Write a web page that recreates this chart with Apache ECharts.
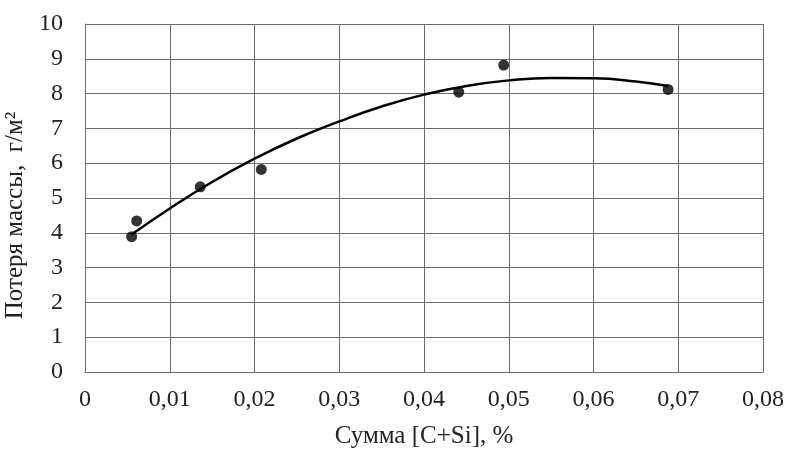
<!doctype html>
<html lang="ru">
<head>
    <meta charset="utf-8">
    <title>Потеря массы</title>
    <script src="https://cdn.jsdelivr.net/npm/echarts@6/dist/echarts.min.js"></script>
    <style>
        html, body { margin: 0; padding: 0; background: #fff; }
        #main { width: 785px; height: 451px; }
    </style>
</head>
<body>
    <div id="main"></div>
    <script>
        // измеренные точки
        var pointX = [0.0055, 0.0061, 0.0136, 0.0208, 0.0441, 0.0494, 0.0688];
        var pointY = [3.89, 4.34, 5.32, 5.82, 8.04, 8.82, 8.12];

        // линия тренда
        var trendX = [0.0055, 0.01, 0.015, 0.02, 0.025, 0.03, 0.035, 0.04, 0.045, 0.05, 0.055, 0.06, 0.065, 0.0688];
        var trendY = [3.95, 4.70, 5.46, 6.13, 6.71, 7.20, 7.63, 7.97, 8.22, 8.38, 8.45, 8.44, 8.35, 8.22];

        var xTickLabels = ['0', '0,01', '0,02', '0,03', '0,04', '0,05', '0,06', '0,07', '0,08'];
        var yTickLabels = ['0', '1', '2', '3', '4', '5', '6', '7', '8', '9', '10'];

        var points = [];
        for (var i = 0; i < pointX.length; i++) points.push([pointX[i], pointY[i]]);
        var trend = [];
        for (var j = 0; j < trendX.length; j++) trend.push([trendX[j], trendY[j]]);

        var font = '"Liberation Serif", "Times New Roman", serif';
        var gridLine = { show: true, lineStyle: { color: '#6e6e6e', width: 1 } };

        var myChart = echarts.init(document.getElementById('main'));
        var option = {
            animation: false,
            backgroundColor: '#fff',
            grid: { left: 85, right: 22, top: 24, bottom: 79, containLabel: false, outerBoundsMode: 'none' },
            xAxis: {
                type: 'value',
                min: 0, max: 0.08, interval: 0.01,
                name: 'Сумма [C+Si], %',
                nameLocation: 'middle',
                nameGap: 52,
                nameTextStyle: { fontFamily: font, fontSize: 25, color: '#222' },
                axisLine: { show: true, lineStyle: { color: '#6e6e6e', width: 1 } },
                axisTick: { show: false },
                splitLine: gridLine,
                axisLabel: {
                    margin: 16,
                    fontFamily: font, fontSize: 24, color: '#222',
                    formatter: function (v) { return xTickLabels[Math.round(v / 0.01)]; }
                }
            },
            yAxis: {
                type: 'value',
                min: 0, max: 10, interval: 1,
                name: 'Потеря массы,  г/м²',
                nameLocation: 'middle',
                nameGap: 47,
                nameTextStyle: { fontFamily: font, fontSize: 25, color: '#222', padding: [0, 35, 0, 0] },
                axisLine: { show: true, lineStyle: { color: '#6e6e6e', width: 1 } },
                axisTick: { show: false },
                splitLine: gridLine,
                axisLabel: {
                    margin: 22,
                    fontFamily: font, fontSize: 24, color: '#222',
                    formatter: function (v) { return yTickLabels[Math.round(v)]; }
                }
            },
            series: [
                {
                    name: 'тренд',
                    type: 'line',
                    data: trend,
                    smooth: true,
                    symbol: 'none',
                    lineStyle: { color: '#000', width: 2.5 },
                    z: 2
                },
                {
                    name: 'точки',
                    type: 'scatter',
                    data: points,
                    symbol: 'circle',
                    symbolSize: 11,
                    itemStyle: { color: '#000' },
                    z: 3
                }
            ]
        };
        myChart.setOption(option);
    </script>
</body>
</html>
